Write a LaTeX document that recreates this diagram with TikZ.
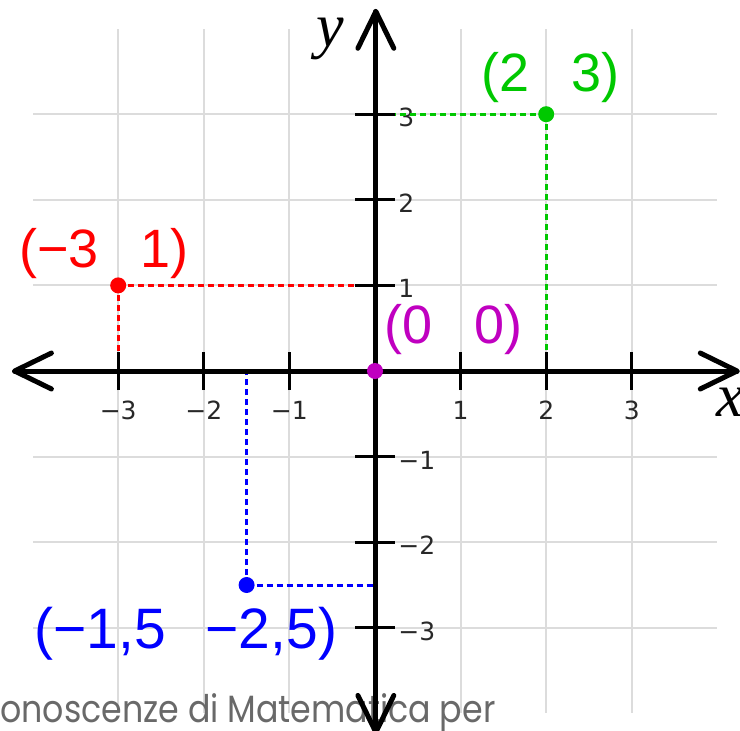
\documentclass[tikz,border=0pt]{standalone}
\usepackage{fontspec}
\setmainfont{Liberation Sans}
\newfontfamily\tickfont{DejaVu Sans}
\newfontfamily\slidefont{Poppins}
\newfontfamily\axisfont{Liberation Serif}
\definecolor{ptred}{RGB}{255,0,0}
\definecolor{ptgreen}{RGB}{0,200,0}
\definecolor{ptmag}{RGB}{192,0,192}
\definecolor{ptblue}{RGB}{0,0,255}
\definecolor{gridgray}{RGB}{220,220,220}
\definecolor{ticktext}{RGB}{40,40,40}
\definecolor{slidegray}{RGB}{105,105,105}
\pgfdeclareradialshading{vignette}{\pgfpoint{0bp}{0bp}}{color(0bp)=(white); color(30bp)=(white); color(40bp)=(black!4); color(50bp)=(black!8); color(100bp)=(black!8)}
\tikzset{
  gridline/.style={draw=gridgray, line width=2pt},
  axisline/.style={draw=black, line width=5pt, line cap=round, line join=round},
  tickline/.style={draw=black, line width=3pt},
  ticklabel/.style={inner sep=0pt, text=ticktext, font=\tickfont\fontsize{25}{27}\selectfont},
  guide/.style={line width=3pt, dash pattern=on 6pt off 4pt},
  ptdot/.style={circle, inner sep=0pt, minimum size=16pt},
  ptlabel/.style={inner sep=0pt, anchor=base west, font=\fontsize{54}{60}\selectfont},
}
\begin{document}
\begin{tikzpicture}[x=1pt, y=-1pt]
\useasboundingbox (0,0) rectangle (740,731);
\clip (0,0) rectangle (740,731);
\shade[shading=vignette] (-200,-450) rectangle (1200,950);
\begin{scope}[shift={(375pt,-371pt)}, x=85.6pt, y=85.6pt]
  % grid
  \foreach \k in {-3,...,3} {
    \draw[gridline] (\k,-3.99) -- (\k,3.99);
    \draw[gridline] (-3.99,\k) -- (3.99,\k);
  }
  % named points
  \coordinate (O) at (0,0);
  \coordinate (A) at (-3,1);
  \coordinate (B) at (2,3);
  \coordinate (C) at (-1.5,-2.5);
\end{scope}
% slide footer text
\node[anchor=base west, inner sep=0pt, text=slidegray, font=\slidefont\fontsize{38}{40}\selectfont] (foot) at (0,722) {\scalebox{0.875}[1]{onoscenze di Matematica per}};
\begin{scope}[shift={(375pt,-371pt)}, x=85.6pt, y=85.6pt]
  % tick labels
  \foreach \k/\t in {-3/−3,-2/−2,-1/−1,1/1,2/2,3/3} {
    \node[ticklabel] (xl\k) at (\k,-0.46) {\t};
    \node[ticklabel, anchor=west] (yl\k) at (0.27,\k-0.04) {\t};
  }
  % guide lines
  \draw[guide, ptred] (A) -- (O |- A);
  \draw[guide, ptred] (A) -- (A |- O);
  \draw[guide, ptgreen] (B) -- (O |- B);
  \draw[guide, ptgreen] (B) -- (B |- O);
  \draw[guide, ptblue] (C) -- (O |- C);
  \draw[guide, ptblue] (C) -- (C |- O);
  % ticks
  \foreach \k in {-3,-2,-1,1,2,3} {
    \draw[tickline] (\k,-0.222) -- (\k,0.222);
    \draw[tickline] (-0.234,\k) -- (0.234,\k);
  }
  % axes
  \coordinate (xw) at (-4.21,0);
  \coordinate (xe) at (4.23,0);
  \coordinate (yn) at (0.01,4.20);
  \coordinate (ys) at (0.01,-4.22);
  \draw[axisline] (xw) -- (xe);
  \draw[axisline] (ys) -- (yn);
  \draw[axisline] ([shift={(0.43,0.21)}]xw) -- (xw) -- ([shift={(0.43,-0.21)}]xw);
  \draw[axisline] ([shift={(-0.43,0.21)}]xe) -- (xe) -- ([shift={(-0.43,-0.21)}]xe);
  \draw[axisline] ([shift={(-0.21,-0.43)}]yn) -- (yn) -- ([shift={(0.21,-0.43)}]yn);
  \draw[axisline] ([shift={(-0.21,0.43)}]ys) -- (ys) -- ([shift={(0.21,0.43)}]ys);
  % dots
  \node[ptdot, fill=ptred] (dA) at (A) {};
  \node[ptdot, fill=ptgreen] (dB) at (B) {};
  \node[ptdot, fill=ptmag] (dO) at (O) {};
  \node[ptdot, fill=ptblue] (dC) at (C) {};
\end{scope}
% point labels
\node[ptlabel, text=ptred] (lA) at (19,267) {(−3\hspace{42pt}1)};
\node[ptlabel, text=ptgreen] (lB) at (481,91) {(2\hspace{42pt}3)};
\node[ptlabel, text=ptmag] (lO) at (384,343) {(0\hspace{42pt}0)};
\node[ptlabel, text=ptblue, font=\fontsize{57}{62}\selectfont] (lC) at (34,648) {(−1,5\hspace{40pt}−2,5)};
% axis names
\node[anchor=base west, inner sep=0pt, font=\axisfont\itshape\fontsize{62}{64}\selectfont] (ylab) at (316,46) {y};
\node[anchor=base west, inner sep=0pt, font=\axisfont\itshape\fontsize{62}{64}\selectfont] (xlab) at (716,416) {x};
\end{tikzpicture}
\end{document}
